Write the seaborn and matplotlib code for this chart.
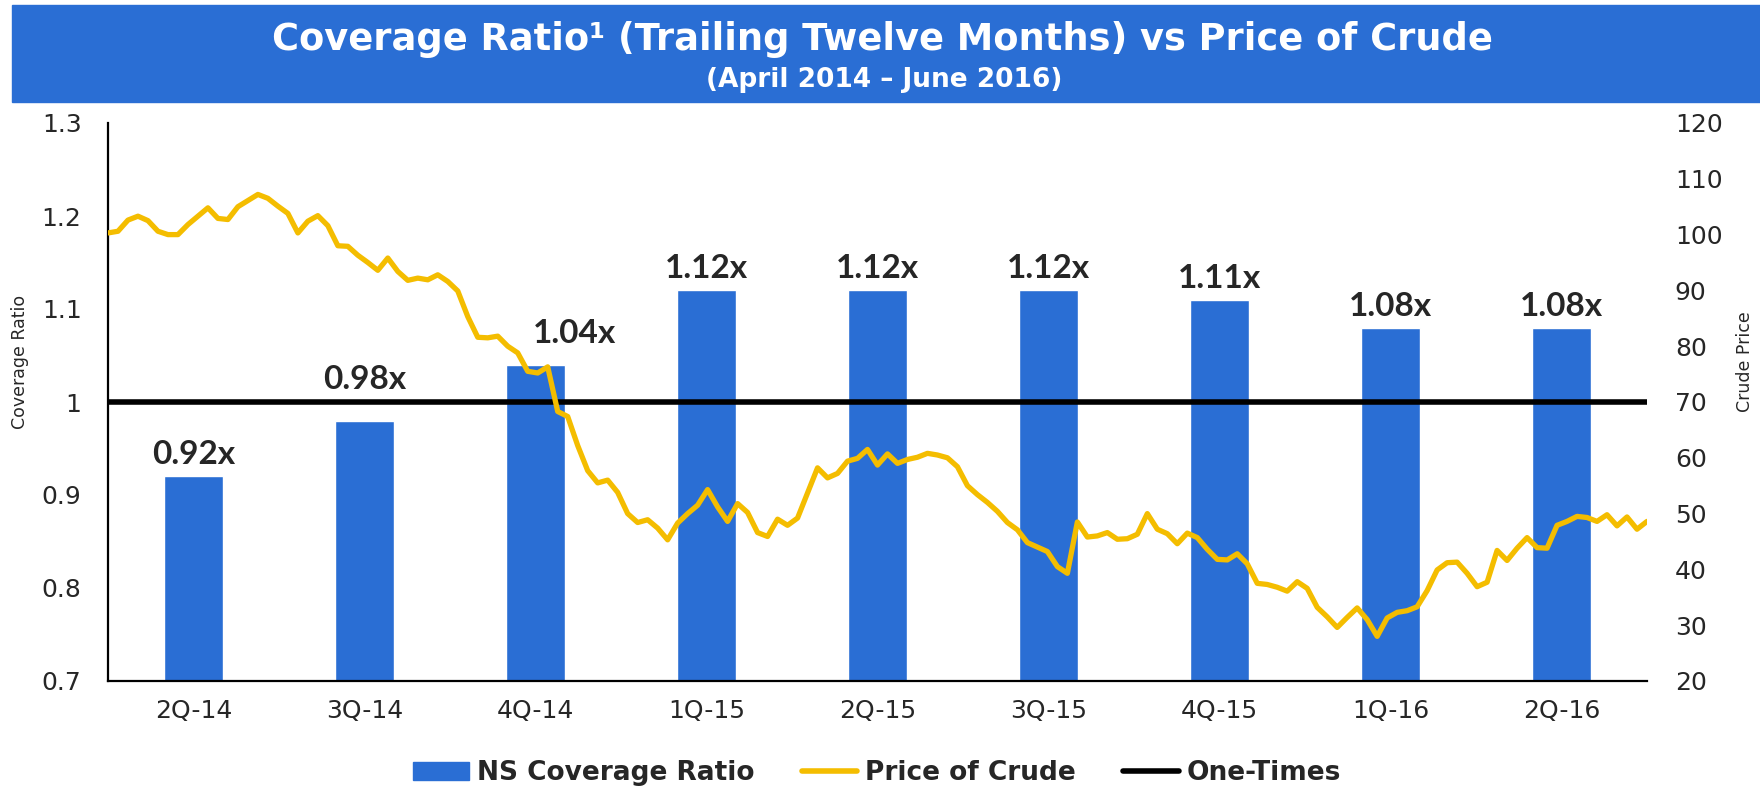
import numpy as np
import pandas as pd
import matplotlib
matplotlib.use("Agg")
import matplotlib.pyplot as plt
import matplotlib.patches as mpatches
from matplotlib.lines import Line2D
import seaborn as sns

quarters = ['2Q-14', '3Q-14', '4Q-14', '1Q-15', '2Q-15', '3Q-15', '4Q-15', '1Q-16', '2Q-16']
coverage = [0.92, 0.98, 1.04, 1.12, 1.12, 1.12, 1.11, 1.08, 1.08]
one_times = 1.0

# crude price at even steps from April 2014 to June 2016
crude = [
    100.3, 100.6, 102.6, 103.3, 102.5, 100.6, 100.0, 100.0, 101.8, 103.3,
    104.8, 102.9, 102.7, 105.0, 106.1, 107.2, 106.5, 105.1, 103.8, 100.3,
    102.4, 103.4, 101.6, 98.0, 97.9, 96.3, 95.0, 93.6, 95.8, 93.4,
    91.8, 92.2, 91.9, 92.8, 91.6, 89.9, 85.3, 81.6, 81.5, 81.8,
    80.0, 78.8, 75.5, 75.2, 76.3, 68.3, 67.4, 62.2, 57.7, 55.5,
    56.0, 53.8, 50.0, 48.4, 48.9, 47.4, 45.3, 48.3, 50.0, 51.5,
    54.3, 51.2, 48.6, 51.8, 50.2, 46.6, 45.9, 49.0, 47.9, 49.2,
    53.7, 58.2, 56.4, 57.2, 59.4, 59.9, 61.5, 58.7, 60.7, 59.0,
    59.7, 60.1, 60.8, 60.5, 60.0, 58.4, 55.0, 53.4, 52.0, 50.4,
    48.4, 47.1, 44.8, 44.0, 43.2, 40.5, 39.3, 48.5, 45.8, 46.0,
    46.6, 45.4, 45.5, 46.3, 50.0, 47.2, 46.4, 44.6, 46.5, 45.7,
    43.6, 41.8, 41.7, 42.8, 41.0, 37.5, 37.3, 36.8, 36.1, 37.8,
    36.6, 33.2, 31.5, 29.6, 31.4, 33.1, 31.0, 28.0, 31.3, 32.3,
    32.6, 33.3, 36.2, 39.9, 41.2, 41.3, 39.3, 36.9, 37.7, 43.4,
    41.6, 43.8, 45.7, 43.9, 43.8, 47.9, 48.6, 49.5, 49.3, 48.6,
    49.8, 47.8, 49.4, 47.2, 48.6,
]

blue = '#2A6ED4'
gold = '#F4BD00'

# label nudges (points) so they clear the one-times line, as on the slide
label_dx = [0, 0, 28, 0, 0, 0, 0, 0, 0]
label_dy = [5, 19, 12, 5, 5, 5, 5, 5, 5]

sns.set_theme(style="white")
plt.rcParams['font.family'] = ['DejaVu Sans']

fig = plt.figure(figsize=(17.6, 7.88), dpi=100)
ax = fig.add_axes([108 / 1760, 1 - 681 / 788, (1647 - 108) / 1760, (681 - 123) / 788])

df = pd.DataFrame({'quarter': quarters, 'coverage': coverage})
sns.barplot(data=df, x='quarter', y='coverage', order=quarters, color=blue,
            saturation=1, width=0.34, ax=ax, zorder=2)
ax.axhline(one_times, color='black', lw=4, solid_capstyle='round', zorder=3)

for i, v in enumerate(coverage):
    ax.annotate(f'{v:.2f}x', (i, v), xytext=(label_dx[i], label_dy[i]),
                textcoords='offset points', ha='center', va='bottom',
                fontsize=24, fontweight='bold', family=['Lato', 'DejaVu Sans'])

ax.set_xlim(-0.5, 8.5)
ax.set_ylim(0.7, 1.3)
ax.set_yticks([0.7, 0.8, 0.9, 1.0, 1.1, 1.2, 1.3])
ax.set_yticklabels(['0.7', '0.8', '0.9', '1', '1.1', '1.2', '1.3'])
ax.set_xlabel('')
ax.set_ylabel('')
ax.tick_params(axis='y', length=0, pad=19, labelsize=18)
ax.tick_params(axis='x', length=0, pad=13, labelsize=18)
for s in ['top', 'right']:
    ax.spines[s].set_visible(False)
for s in ['left', 'bottom']:
    ax.spines[s].set_color('black')
    ax.spines[s].set_linewidth(1.6)

ax2 = ax.twinx()
xs = np.linspace(-0.5, 8.5, len(crude))
sns.lineplot(x=xs, y=crude, color=gold, lw=3.8, ax=ax2)
ax2.set_ylim(20, 120)
ax2.set_yticks(range(20, 121, 10))
ax2.tick_params(axis='y', length=0, pad=20, labelsize=18)
for s in ax2.spines.values():
    s.set_visible(False)
ax2.set_xlim(-0.5, 8.5)

fig.text(20 / 1760, 1 - 362 / 788, 'Coverage Ratio', rotation=90, ha='center',
         va='center', fontsize=12.5)
fig.text(1745 / 1760, 1 - 362 / 788, 'Crude Price', rotation=90, ha='center',
         va='center', fontsize=12.5)

# title banner
fig.patches.append(mpatches.Rectangle((12 / 1760, 1 - 102 / 788), 1 - 12 / 1760, 97 / 788,
                                      transform=fig.transFigure, color=blue, zorder=0))
fig.text(882 / 1760, 1 - 39 / 788, 'Coverage Ratio\u00b9 (Trailing Twelve Months) vs Price of Crude',
         ha='center', va='center', color='white', fontsize=26.5, fontweight='bold')
fig.text(884 / 1760, 1 - 80 / 788, '(April 2014 \u2013 June 2016)',
         ha='center', va='center', color='white', fontsize=19, fontweight='bold')

handles = [mpatches.Patch(color=blue),
           Line2D([], [], color=gold, lw=4),
           Line2D([], [], color='black', lw=4)]
fig.legend(handles, ['NS Coverage Ratio', 'Price of Crude', 'One-Times'],
           loc='center', bbox_to_anchor=(877 / 1760, 1 - 773 / 788), ncol=3,
           frameon=False, prop={'weight': 'bold', 'size': 19},
           handlelength=2.1, handletextpad=0.3, columnspacing=1.8)

fig.savefig('out.png', dpi=100)
